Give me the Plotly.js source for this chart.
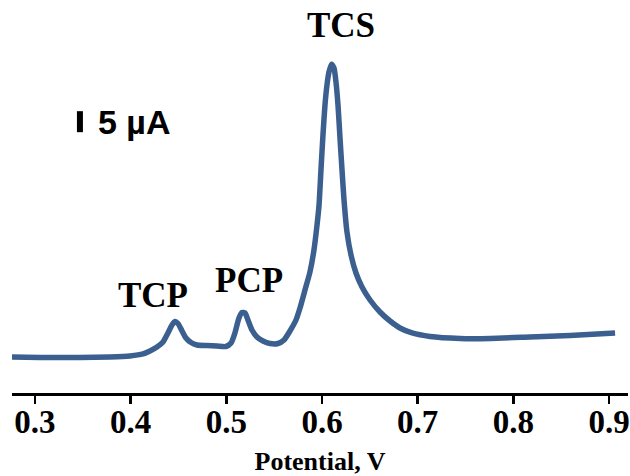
<!DOCTYPE html>
<html>
<head>
<meta charset="utf-8">
<script src="https://cdn.plot.ly/plotly-3.0.1.min.js"></script>
<style>html,body{margin:0;padding:0;background:#fff;}#chart{width:630px;height:476px;}</style>
</head>
<body>
<div id="chart"></div>
<script>
// Potential (V)
const potential = [0.2760,0.3052,0.3470,0.3784,0.3993,0.4129,0.4202,0.4275,0.4338,0.4390,0.4432,0.4463,0.4495,0.4537,0.4578,0.4631,0.4693,0.4798,0.4902,0.4996,0.5049,0.5090,0.5132,0.5164,0.5195,0.5226,0.5268,0.5320,0.5383,0.5456,0.5540,0.5603,0.5665,0.5728,0.5770,0.5822,0.5874,0.5916,0.5948,0.5969,0.5989,0.6010,0.6031,0.6052,0.6073,0.6099,0.6125,0.6146,0.6167,0.6188,0.6209,0.6230,0.6261,0.6303,0.6355,0.6418,0.6502,0.6606,0.6711,0.6815,0.6941,0.7129,0.7442,0.7756,0.8174,0.8592,0.9063];
// Current (µA, arbitrary offset)
const current = [8.57,8.45,8.45,8.57,8.81,9.29,10.0,10.95,12.14,14.29,16.19,17.02,16.55,14.76,13.1,12.02,11.43,11.31,11.19,11.07,11.9,14.29,17.86,19.17,19.05,17.38,15.0,13.33,12.38,11.79,11.79,12.62,14.76,17.38,20.24,24.52,28.81,34.05,40.0,44.76,53.1,61.43,68.57,73.33,76.43,78.3,77.4,74.05,68.57,60.71,53.1,45.95,38.33,32.86,28.57,25.24,22.14,19.29,17.14,15.48,14.29,13.45,12.98,12.98,13.33,13.69,14.29];
const tickVals = [0.3,0.4,0.5,0.6,0.7,0.8,0.9];
const tickText = ["0.3","0.4","0.5","0.6","0.7","0.8","0.9"];
const peakNames = ["TCP","PCP","TCS"];
const peakX = [0.4233,0.5237,0.620];
const peakY = [23.1,26.7,87.6];
const scaleBarX = 0.347;
const scaleBarY = [62.1,67.1];
const scaleLabel = "5 µA";

const serif = {family:"Liberation Serif, Times New Roman, serif", color:"#000", weight:"bold"};

const annotations = peakNames.map((n,i)=>({
  x: peakX[i], y: peakY[i], xref:"x", yref:"y", text:n, showarrow:false,
  xanchor:"center", yanchor:"middle",
  font: Object.assign({}, serif, {size:35})
}));
annotations.push({
  x: 0.3635, y: (scaleBarY[0]+scaleBarY[1])/2, xref:"x", yref:"y", text:scaleLabel, showarrow:false,
  xanchor:"left", yanchor:"middle",
  font:{family:"Liberation Sans, Arial, sans-serif", size:34, color:"#000", weight:"bold"}
});

Plotly.newPlot("chart", [{
  x: potential, y: current, type:"scatter", mode:"lines",
  line:{color:"#3b5f8f", width:5.5, shape:"spline", smoothing:0.6},
  hoverinfo:"skip"
}], {
  width:630, height:476,
  margin:{l:12, r:2, t:10, b:83},
  paper_bgcolor:"#fff", plot_bgcolor:"#fff",
  showlegend:false,
  xaxis:{
    range:[0.276,0.9198], showgrid:false, zeroline:false,
    showline:true, linecolor:"#000", linewidth:2.5,
    ticks:"outside", ticklen:8, tickwidth:2.5, tickcolor:"#000",
    ticklabelstandoff:-10,
    tickvals:tickVals, ticktext:tickText,
    tickfont:Object.assign({}, serif, {size:33}),
    title:{text:"Potential, V", font:Object.assign({}, serif, {size:26}), standoff:25}
  },
  yaxis:{range:[0,91.19], visible:false, fixedrange:true},
  shapes:[{
    type:"line", xref:"x", yref:"y", x0:scaleBarX, x1:scaleBarX, y0:scaleBarY[0], y1:scaleBarY[1],
    line:{color:"#000", width:6}
  }],
  annotations: annotations
}, {displayModeBar:false, staticPlot:true});
</script>
</body>
</html>
